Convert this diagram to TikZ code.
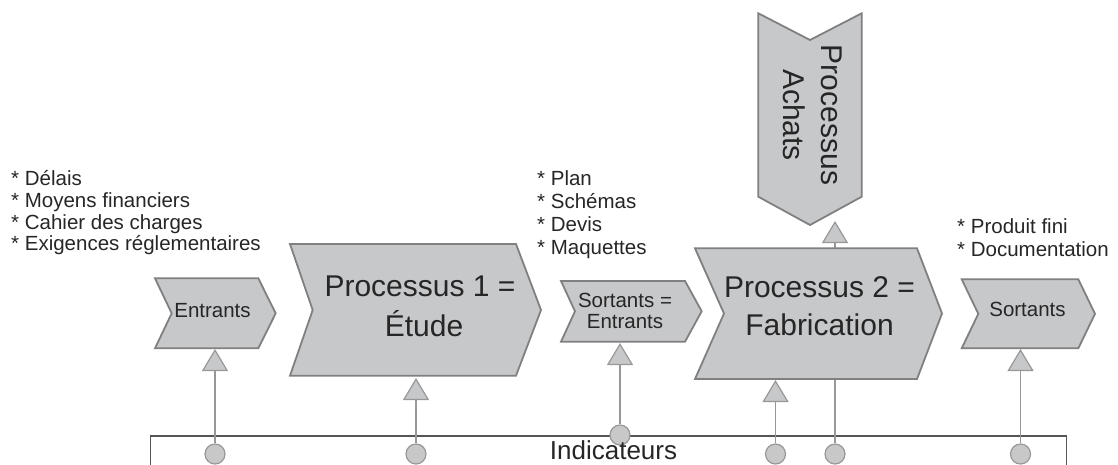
\documentclass[tikz,border=0pt]{standalone}
\usepackage{fontspec}
\setmainfont{Liberation Sans}
\usetikzlibrary{arrows.meta}

\definecolor{shapefill}{RGB}{199,200,202}
\definecolor{shapeline}{RGB}{128,128,128}
\definecolor{connline}{RGB}{152,152,152}
\definecolor{dotfill}{RGB}{200,200,200}
\definecolor{boxline}{RGB}{85,85,85}
\definecolor{txt}{RGB}{38,38,38}

% stacked lines centred on the anchor point; the baseline is that of the first line
\newcommand\ctrlines[2]{\vtop{\hbox to 0pt{\hss#1\hss}\hbox to 0pt{\hss#2\hss}}}

\pgfdeclarelayer{back}
\pgfsetlayers{back,main}

\tikzset{
  chevron/.style={fill=shapefill, draw=shapeline, line width=1.8pt, line join=miter},
  conn/.style={draw=connline, line width=1.8pt,
    -{Triangle[width=26pt,length=22pt,fill=shapefill,line width=1.2pt]}},
  dot/.style={circle, fill=dotfill, draw=connline, line width=1.2pt,
    minimum size=20pt, inner sep=0pt},
  lbl/.style={text=txt, inner sep=0pt, anchor=base},
  listtxt/.style={text=txt, inner sep=0pt, anchor=base west},
}

\begin{document}
\begin{tikzpicture}[x=1pt, y=-1pt]
\useasboundingbox (0,0) rectangle (1118,464);

% measurement circles along the indicator frame
\node[dot] (d1) at (215,454) {};
\node[dot] (d2) at (416,454) {};
\node[dot] (d3) at (620,435) {};
\node[dot] (d4) at (775.5,454) {};
\node[dot] (d5) at (835,454) {};
\node[dot] (d6) at (1020.5,454) {};

% arrow tips under (or above) the process shapes
\coordinate (t1) at (215,349);
\coordinate (t2) at (416,378);
\coordinate (t3) at (620,343);
\coordinate (t4) at (775.5,380);
\coordinate (t5) at (835,221);
\coordinate (t6) at (1020.5,349);

\begin{pgfonlayer}{back}
  % indicator frame
  \draw[boxline, line width=1.5pt] (150.7,470) -- (150.7,436) -- (1066.7,436) -- (1066.7,470);

  % connectors
  \draw[conn] (d1) -- (t1);
  \draw[conn] (d2) -- (t2);
  \draw[conn] (d3) -- (t3);
  \draw[conn] (d4) -- (t4);
  \draw[conn] (d5) -- (t5);
  \draw[conn] (d6) -- (t6);

  % process chevrons
  \draw[chevron] (155,278.3) -- (258.3,278.3) -- (275.7,313.3) -- (258.3,348.3)
                 -- (155,348.3) -- (171.7,313.3) -- cycle;
  \draw[chevron] (290,244) -- (516,244) -- (541,310) -- (516,375.7)
                 -- (290,375.7) -- (312.7,310) -- cycle;
  \draw[chevron] (561,281) -- (685,281) -- (701.7,311.3) -- (685,341.7)
                 -- (561,341.7) -- (575,311.3) -- cycle;
  \draw[chevron] (695,248.3) -- (917,248.3) -- (942,313.5) -- (917,379)
                 -- (695,379) -- (724,313.5) -- cycle;
  \draw[chevron] (961.7,279.3) -- (1078.3,279.3) -- (1095,313.8) -- (1078.3,348.3)
                 -- (961.7,348.3) -- (978.3,313.8) -- cycle;
  \draw[chevron] (758.3,13.3) -- (810,40) -- (861.7,13.3) -- (861.7,196.7)
                 -- (810,225) -- (758.3,196.7) -- cycle;
\end{pgfonlayer}

% labels inside the shapes
\node[lbl, font=\fontsize{20.5}{21}\selectfont] (entrants) at (212.5,317.7) {Entrants};
\node[lbl, font=\fontsize{30}{39.3}\selectfont] (etude) at (420,296.7)
  {\ctrlines{Processus 1 =}{\kern8pt Étude}};
\node[lbl, font=\fontsize{20.5}{21}\selectfont] (interm) at (625,307.3)
  {\ctrlines{Sortants =}{Entrants}};
\node[lbl, font=\fontsize{30}{37.7}\selectfont] (fabrication) at (819.5,297.3)
  {\ctrlines{Processus 2 =}{Fabrication}};
\node[lbl, font=\fontsize{20.5}{21}\selectfont] (sortants) at (1027.5,316.7) {Sortants};
\node[lbl, font=\fontsize{30}{38.5}\selectfont, rotate=-90] (achats) at (821.5,115)
  {\ctrlines{Processus}{Achats}};
\node[lbl, font=\fontsize{26}{30}\selectfont] (indic) at (613.5,459.3) {Indicateurs};

% item lists above the shapes
\node[listtxt, font=\fontsize{20.5}{21.7}\selectfont] (inputs) at (11,185.7)
  {\vtop{\hbox{* Délais}\hbox{* Moyens financiers}\hbox{* Cahier des charges}\hbox{* Exigences réglementaires}}};
\node[listtxt, font=\fontsize{20.5}{22.8}\selectfont] (deliv) at (537,185.7)
  {\vtop{\hbox{* Plan}\hbox{* Schémas}\hbox{* Devis}\hbox{* Maquettes}}};
\node[listtxt, font=\fontsize{20.5}{23.4}\selectfont] (outputs) at (957,233.3)
  {\vtop{\hbox{* Produit fini}\hbox{* Documentation}}};
\end{tikzpicture}
\end{document}
